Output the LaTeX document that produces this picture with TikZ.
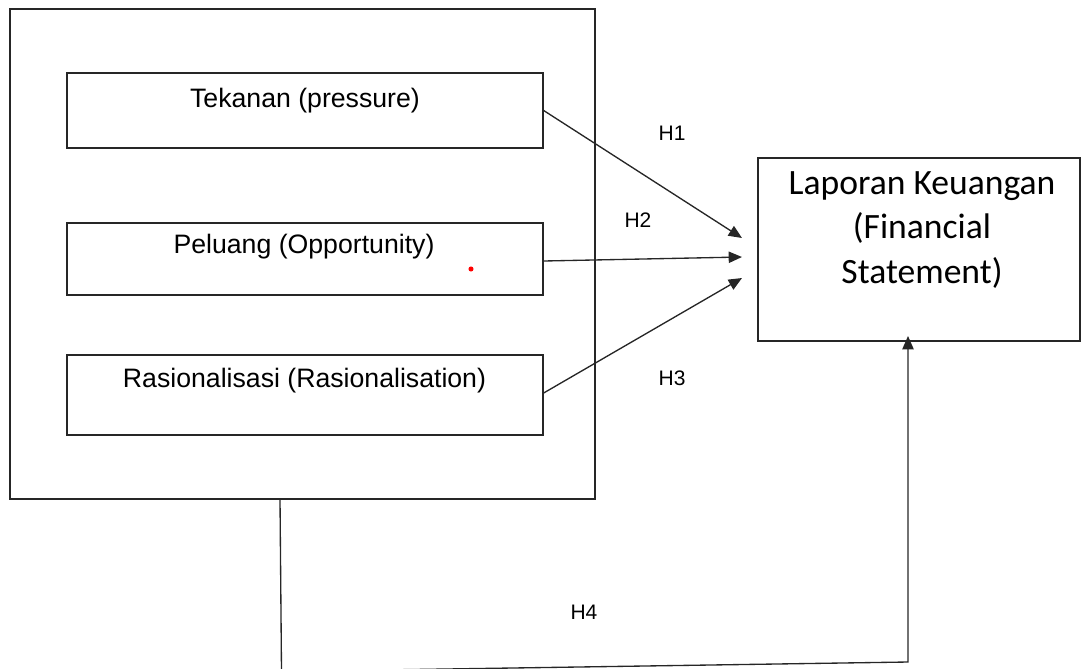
\documentclass[tikz,border=0pt]{standalone}
\usepackage{fontspec}
\setmainfont{Liberation Sans}
\newfontfamily\calibri{Carlito}
\usetikzlibrary{arrows.meta}
\usetikzlibrary{positioning}

\tikzset{
	varbox/.style={draw=black!85, line width=1pt, minimum width=357pt, inner sep=0pt},
	vartext/.style={anchor=base, inner sep=0pt, font=\fontsize{20}{24}\selectfont},
	hlabel/.style={inner sep=0pt, font=\fontsize{15.75}{18}\selectfont},
	hyparrow/.style={draw=black!85, line width=1pt, -{Triangle[length=10pt,width=8.5pt]}}
}

\begin{document}
\begin{tikzpicture}[x=0.75pt,y=-0.75pt]

					\useasboundingbox (0,0) rectangle (1084,668);
					\clip (0,0) rectangle (1084,668);

					% independent variables
					\node[draw=black!85, line width=0.9pt, minimum width=438.75pt, minimum height=367.5pt, inner sep=0pt] (fraud) at (302.5,254) {};
					\node[varbox, minimum height=56.25pt] (tekanan) at (305,110.5) {};
					\node[varbox, minimum height=54pt] (peluang) at (305,259) {};
					\node[varbox, minimum height=60pt] (rasional) at (305,395) {};
					\node[vartext] (tekanant) at (305,107) {Tekanan (pressure)};
					\node[vartext] (peluangt) at (304,253) {Peluang (Opportunity)};
					\node[vartext] (rasionalt) at (304.5,387) {Rasionalisasi (Rasionalisation)};
					\fill[red] (471,269) circle (1.9pt);

					% dependent variable
					\node[draw=black!85, line width=1pt, minimum width=241.5pt, minimum height=137.25pt, inner sep=0pt] (laporan) at (919,249.5) {};
					\node[inner sep=0pt, align=center, font=\calibri\fontsize{26.7}{33.4}\selectfont] (laporant) at (922,230) {Laporan Keuangan\\(Financial\\Statement)};

					% hypotheses
					\coordinate (h1end) at (742,238);
					\coordinate (h2end) at (742,257);
					\coordinate (h3end) at (742,278);
					\coordinate (h4top) at (280,499);
					\coordinate (h4low) at (281.5,671.5);
					\coordinate (h4right) at (908,662);
					\coordinate (h4end) at (908,336);
					\draw[hyparrow] (tekanan.east) -- (h1end);
					\draw[hyparrow] (peluang.east |- 0,261) -- (h2end);
					\draw[hyparrow] (rasional.east |- 0,393) -- (h3end);
					\draw[hyparrow] (h4top) -- (h4low) -- (h4right) -- (h4end);

					\node[hlabel] (h1) at (672,133) {H1};
					\node[hlabel] (h2) at (638,220) {H2};
					\node[hlabel] (h3) at (672,378) {H3};
					\node[hlabel] (h4) at (584,612) {H4};
				\end{tikzpicture}
\end{document}
